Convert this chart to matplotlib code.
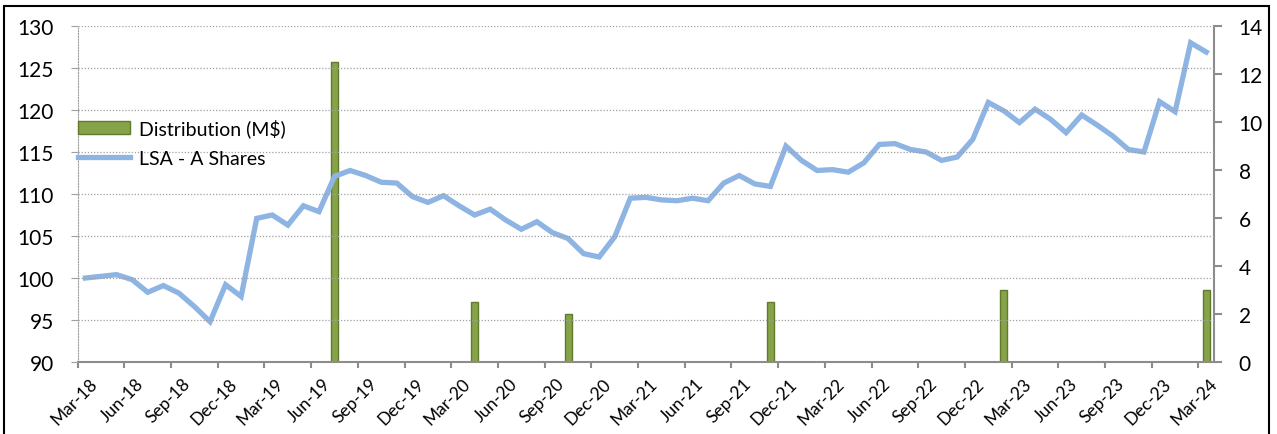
import numpy as np
import pandas as pd
import matplotlib
matplotlib.use("Agg")
import matplotlib.pyplot as plt
from matplotlib.patches import Rectangle
from matplotlib.transforms import ScaledTranslation, blended_transform_factory

plt.rcParams['font.family'] = ['Lato', 'DejaVu Sans']

# monthly dates Mar-18 .. Mar-24
meses = pd.date_range("2018-03-01", "2024-03-01", freq="MS")
rotulos = [d.strftime("%b-%y") for d in meses]

# LSA - A Shares (left axis)
lsa = [100.0, 100.2, 100.4, 99.8, 98.3, 99.1, 98.2, 96.6, 94.8, 99.2,
       97.8, 107.1, 107.5, 106.3, 108.6, 107.9, 112.1, 112.8, 112.2, 111.4,
       111.3, 109.7, 109.0, 109.8, 108.6, 107.5, 108.2, 106.9, 105.8, 106.7,
       105.4, 104.7, 102.9, 102.5, 104.9, 109.5, 109.6, 109.3, 109.2, 109.5,
       109.2, 111.3, 112.2, 111.2, 110.9, 115.7, 114.0, 112.8, 112.9, 112.6,
       113.7, 115.9, 116.0, 115.3, 115.0, 114.0, 114.4, 116.5, 120.9, 119.9,
       118.5, 120.1, 118.9, 117.3, 119.4, 118.2, 116.9, 115.3, 115.0, 121.0,
       119.8, 128.0, 126.9]

# Distribution (M$) (right axis)
dist_meses = ["2019-07", "2020-04", "2020-10", "2021-11", "2023-02", "2024-03"]
dist_valores = [12.5, 2.5, 2.0, 2.5, 3.0, 3.0]

idx = {d.strftime("%Y-%m"): i for i, d in enumerate(meses)}
x = np.arange(len(meses))
x_dist = [idx[m] for m in dist_meses]

fig = plt.figure(figsize=(12.77, 4.35), dpi=100)
ax = fig.add_axes([77.7/1277, 1-363/435, (1214-77.7)/1277, 336/435])
ax2 = ax.twinx()
ax.set_zorder(ax2.get_zorder() + 1)
ax.patch.set_visible(False)
ax2.patch.set_facecolor("#EFF2E9")

cinza = "#8C8C8C"
barras = ax2.bar(x_dist, dist_valores, width=0.45, color="#86A34A",
                 edgecolor="#5F7B2B", linewidth=1, label="Distribution (M$)")
linha, = ax.plot(x, lsa, color="#8DB4E2", linewidth=3.8,
                 solid_joinstyle="miter", label="LSA - A Shares")

ax.set_xlim(-0.5, len(meses) - 0.5)
ax.set_ylim(90, 130)
ax2.set_ylim(0, 14)
ax.set_yticks(range(90, 131, 5))
ax2.set_yticks(range(0, 15, 2))

ax.yaxis.grid(True, linestyle=(0, (1, 1.5)), color="#A0A0A0", linewidth=0.9)
ax.set_axisbelow(False)

# month ticks every quarter, labels placed by hand-offset text like Excel
xt = np.arange(0, len(meses), 3) - 0.5
ax.set_xticks(xt)
ax.set_xticklabels([])
trans = blended_transform_factory(ax.transData, ax.transAxes) + \
    ScaledTranslation(11/100, -13/100, fig.dpi_scale_trans)
for pos, txt in zip(xt, rotulos[::3]):
    ax.text(pos, 0, txt, transform=trans, rotation=45, ha="right", va="top",
            rotation_mode="anchor", fontsize=12.5)

ax.spines["top"].set_visible(False)
ax2.spines["top"].set_visible(False)
ax.spines["right"].set_visible(False)
ax.spines["left"].set_linestyle((0, (1, 1.5)))
ax.spines["left"].set_color("#A0A0A0")
ax.spines["bottom"].set_color(cinza)
ax.spines["bottom"].set_linewidth(1.5)
ax2.spines["left"].set_visible(False)
ax2.spines["bottom"].set_visible(False)
ax2.spines["right"].set_color(cinza)
ax2.spines["right"].set_linewidth(1.5)

ax.tick_params(axis="y", length=5, color="#A0A0A0", labelsize=15, pad=12)
ax.tick_params(axis="x", length=4.3, width=1.5, color=cinza, pad=2)
ax2.tick_params(axis="y", length=5.8, width=1.5, color=cinza, labelsize=15, pad=12)

leg = ax.legend([barras, linha], ["Distribution (M$)", "LSA - A Shares"],
                loc="upper left", bbox_to_anchor=(0, 0.725), frameon=False,
                fontsize=14, handlelength=2.7, handletextpad=0.45,
                labelspacing=0.65, borderaxespad=0, borderpad=0)

fig.patches.append(Rectangle((4/1277, -0.1), 1265/1277, 1.1 - 7/435,
                             transform=fig.transFigure, fill=False,
                             edgecolor="black", linewidth=1.5))

fig.savefig("out.png", dpi=100)
